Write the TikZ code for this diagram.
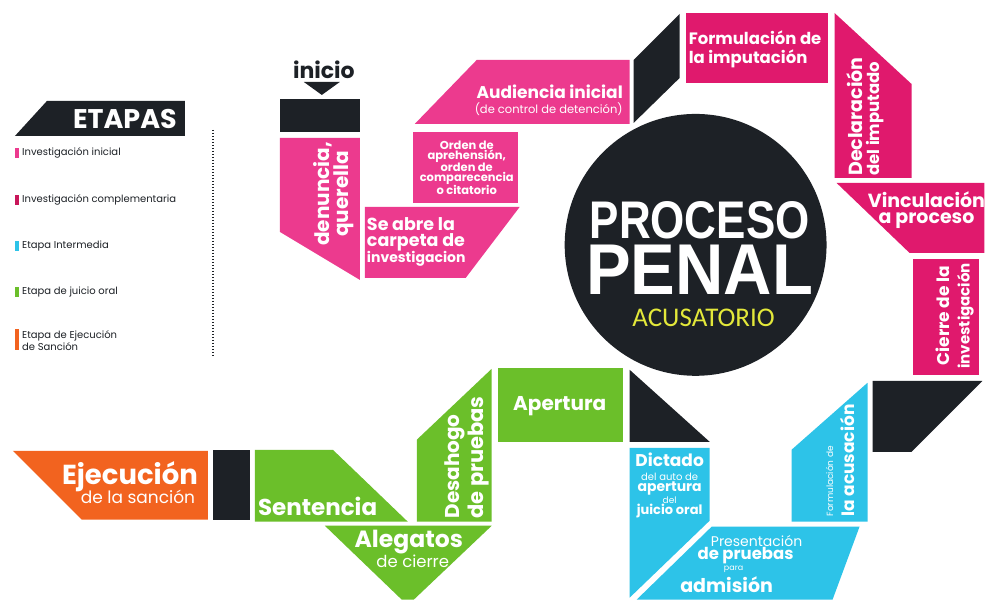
\documentclass[tikz,border=0pt]{standalone}
\usepackage{fontspec}
\setmainfont{Poppins}
\newfontfamily\headfont{Liberation Sans}
\newfontfamily\subfont{Carlito}
\usetikzlibrary{positioning}
\definecolor{pinkA}{HTML}{EC3A8E}
\definecolor{pinkB}{HTML}{E0196D}
\definecolor{pinkC}{HTML}{C8175A}
\definecolor{cyanA}{HTML}{2DC3E8}
\definecolor{greenA}{HTML}{6BBF2A}
\definecolor{orangeA}{HTML}{F2631F}
\definecolor{blackA}{HTML}{1D2126}
\definecolor{yellowA}{HTML}{E3E83A}
\newcommand\fsz[2]{\fontsize{#1}{#2}\selectfont}

\begin{document}
\begin{tikzpicture}[x=1pt,y=-1pt,
  stage text/.style={text=white,inner sep=0pt},
  side text/.style={text=white,inner sep=0pt,rotate=90,anchor=west},
  legend text/.style={text=blackA,inner sep=0pt,anchor=west,align=left,font=\fsz{10}{12}},
  legend bar/.style={minimum width=4pt,minimum height=10pt,inner sep=0pt}]
  \fill[white] (0,0) rectangle (985,602);

  % legend
  \fill[blackA] (15,136) -- (47,101) -- (185,101) -- (185,136) -- cycle;
  \node[stage text,font=\bfseries\fsz{27}{27}] (etapas) at (125,119) {ETAPAS};
  \node[legend bar,fill=pinkA] (barA) at (17,153) {};
  \node[legend text] (legA) at (22,153) {Investigación inicial};
  \node[legend bar,fill=pinkC] (barB) at (17,200) {};
  \node[legend text] (legB) at (22,200) {Investigación complementaria};
  \node[legend bar,fill=cyanA] (barC) at (17,246) {};
  \node[legend text] (legC) at (22,246) {Etapa Intermedia};
  \node[legend bar,fill=greenA] (barD) at (17,292) {};
  \node[legend text] (legD) at (22,292) {Etapa de juicio oral};
  \node[legend bar,fill=orangeA,minimum height=21pt] (barE) at (17,340) {};
  \node[legend text] (legE) at (22,341) {Etapa de Ejecución\\de Sanción};
  \coordinate (sepTop) at (213,130);
  \coordinate (sepBot) at (213,358);
  \draw[blackA,line width=1.6pt,dash pattern=on 1.5pt off 1.5pt] (sepTop) -- (sepBot);

  % investigacion inicial
  \node[inner sep=0pt,text=blackA,font=\bfseries\fsz{22}{22}] (inicio) at (324,70) {inicio};
  \fill[blackA] (304,82) -- (340,82) -- (322,95) -- cycle;
  \fill[blackA] (280,99) rectangle (360,132);
  \fill[pinkA] (280,138) -- (360,138) -- (360,280) -- (280,232) -- cycle;
  \node[side text,anchor=center,align=center,font=\bfseries\fsz{20}{19}] (denuncia) at (334,194) {denuncia,\\querella};
  \fill[pinkA] (365,207) -- (520,207) -- (466,278) -- (365,278) -- cycle;
  \node[stage text,anchor=west,align=left,font=\bfseries\fsz{17.5}{16}] (carpeta) at (367,234) {Se abre la\\carpeta de};
  \node[stage text,anchor=west,font=\bfseries\fsz{14}{14}] (investig) at (367,259) {investigacion};
  \fill[pinkA] (413,132) rectangle (518,203);
  \node[stage text,align=center,font=\bfseries\fsz{11.5}{9.8}] (orden) at (467,168) {Orden de\\aprehensión,\\orden de\\comparecencia\\o citatorio};
  \fill[pinkA] (415,124) -- (477,60) -- (630,60) -- (630,124) -- cycle;
  \node[stage text,font=\bfseries\fsz{17}{17}] (audiencia) at (550,92) {Audiencia inicial};
  \node[stage text,font=\fsz{11.5}{11.5}] (control) at (549,109) {(de control de detención)};
  \fill[blackA] (634,123) -- (634,60) -- (680,14) -- (680,78) -- cycle;

  % investigacion complementaria
  \fill[pinkB] (686,13) rectangle (828,83);
  \node[stage text,anchor=west,align=left,font=\bfseries\fsz{16.5}{19}] (imputacion) at (689,49) {Formulación de\\la imputación};
  \fill[pinkB] (835,13) -- (912,84) -- (912,178) -- (835,178) -- cycle;
  \node[side text,font=\bfseries\fsz{19}{19}] (declaracion) at (855,176) {Declaración};
  \node[side text,font=\bfseries\fsz{16.5}{16.5}] (imputado) at (876,176) {del imputado};
  \fill[pinkB] (837,183) -- (985,183) -- (985,253) -- (910,253) -- cycle;
  \node[stage text,align=center,font=\bfseries\fsz{19}{16.5}] (vinculacion) at (927,210) {Vinculación\\a proceso};
  \fill[pinkB] (913,259) rectangle (980,375);
  \node[side text,anchor=center,font=\bfseries\fsz{17}{17}] (cierre) at (943,316) {Cierre de la};
  \node[side text,anchor=center,font=\bfseries\fsz{15}{15}] (investigacion) at (966,316) {investigación};
  \fill[blackA] (873,381) -- (983,381) -- (912,452) -- (873,452) -- cycle;

  % etapa intermedia
  \fill[cyanA] (792,522) -- (792,450) -- (868,383) -- (868,522) -- cycle;
  \node[side text,font=\fsz{9}{9}] (formacus) at (830,517) {Formulación de};
  \node[side text,font=\bfseries\fsz{17}{17}] (acusacion) at (848,517) {la acusación};
  \fill[cyanA] (712,527) -- (860,527) -- (833,600) -- (637,600) -- cycle;
  \node[stage text,font=\fsz{14}{14}] (present) at (757,541) {Presentación};
  \node[stage text,font=\bfseries\fsz{16.5}{16.5}] (pruebas) at (746,556) {de pruebas};
  \node[stage text,font=\fsz{8}{8}] (para) at (734,570) {para};
  \node[stage text,font=\bfseries\fsz{19}{19}] (admision) at (727,585) {admisión};
  \fill[cyanA] (630,448) -- (710,448) -- (710,521) -- (630,598) -- cycle;
  \node[stage text,font=\bfseries\fsz{17}{17}] (dictado) at (670,460) {Dictado};
  \node[stage text,font=\fsz{10}{10}] (auto) at (670,477) {del auto de};
  \node[stage text,font=\bfseries\fsz{14}{14}] (apertaux) at (670,489) {apertura};
  \node[stage text,font=\fsz{9}{9}] (del) at (670,500) {del};
  \node[stage text,font=\bfseries\fsz{13}{13}] (juicio) at (670,511) {juicio oral};
  \fill[blackA] (630,370) -- (710,442) -- (630,442) -- cycle;

  % juicio oral
  \fill[greenA] (498,368) rectangle (623,442);
  \node[stage text,font=\bfseries\fsz{20}{20}] (apertura) at (560,406) {Apertura};
  \fill[greenA] (417,522) -- (417,440) -- (492,369) -- (492,522) -- cycle;
  \node[side text,font=\bfseries\fsz{20}{20}] (desahogo) at (455,519) {Desahogo};
  \node[side text,font=\bfseries\fsz{21}{21}] (depruebas) at (479,519) {de pruebas};
  \fill[greenA] (325,526) -- (492,526) -- (414,600) -- (402,600) -- cycle;
  \node[stage text,font=\bfseries\fsz{23.5}{23.5}] (alegatos) at (409,542) {Alegatos};
  \node[stage text,font=\fsz{16.5}{16.5}] (cierre2) at (413,562) {de cierre};
  \fill[greenA] (255,450) -- (333,450) -- (408,522) -- (255,522) -- cycle;
  \node[stage text,anchor=west,font=\bfseries\fsz{23}{23}] (sentencia) at (258,507) {Sentencia};
  \fill[blackA] (213,450) rectangle (250,520);

  % ejecucion
  \fill[orangeA] (13,451) -- (208,451) -- (208,520) -- (82,520) -- cycle;
  \node[stage text,font=\bfseries\fsz{27.5}{27.5}] (ejecucion) at (130,477) {Ejecución};
  \node[stage text,font=\fsz{17}{17}] (sancion) at (138,497) {de la sanción};

  % centro
  \fill[blackA] (696,245) circle[radius=131];
  \node[stage text,font=\headfont\bfseries\fsz{53}{53}] (proceso) at (700,220) {\scalebox{0.83}[1]{PROCESO}};
  \node[stage text,font=\headfont\bfseries\fsz{72}{72}] (penal) at (700,270) {\scalebox{0.93}[1]{PENAL}};
  \node[inner sep=0pt,text=yellowA,font=\subfont\fsz{27}{27}] (acusatorio) at (704,318) {ACUSATORIO};
\end{tikzpicture}
\end{document}
